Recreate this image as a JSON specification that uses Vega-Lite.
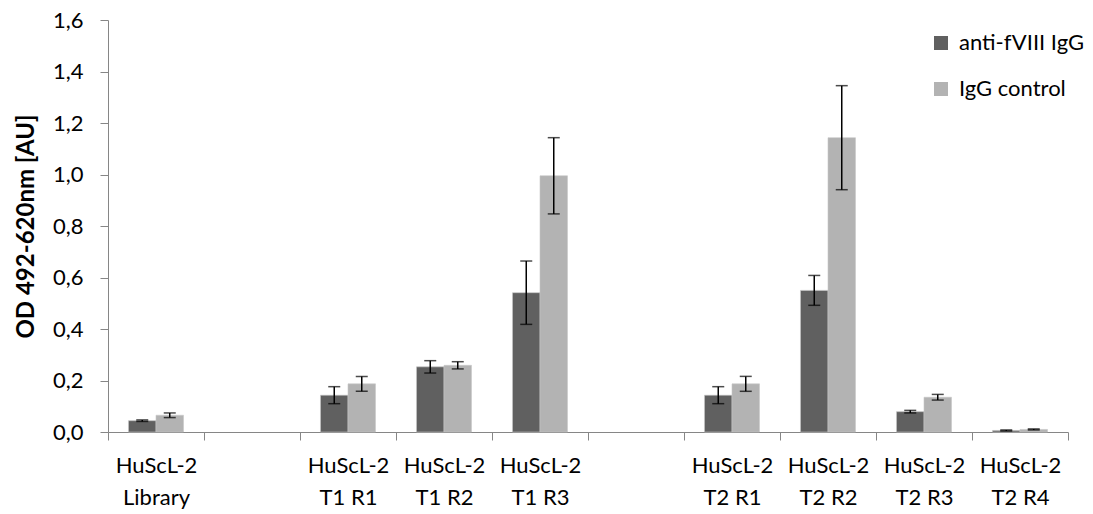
{
  "$schema": "https://vega.github.io/schema/vega-lite/v6.json",
  "width": 960,
  "height": 412,
  "autosize": {"type": "none"},
  "padding": {"left": 108, "top": 20, "right": 25, "bottom": 82},
  "background": "white",
  "config": {
    "view": {"stroke": null},
    "font": "Lato",
    "axis": {"labelFont": "Lato", "titleFont": "Lato", "labelColor": "#000000", "titleColor": "#000000", "grid": false}
  },
  "data": {
    "values": [
      {"sample": "HuScL-2 Library", "series": "anti-fVIII IgG", "od": 0.044, "err": 0.003},
      {"sample": "HuScL-2 Library", "series": "IgG control", "od": 0.065, "err": 0.009},
      {"sample": "HuScL-2 T1 R1", "series": "anti-fVIII IgG", "od": 0.143, "err": 0.033},
      {"sample": "HuScL-2 T1 R1", "series": "IgG control", "od": 0.187, "err": 0.029},
      {"sample": "HuScL-2 T1 R2", "series": "anti-fVIII IgG", "od": 0.253, "err": 0.024},
      {"sample": "HuScL-2 T1 R2", "series": "IgG control", "od": 0.259, "err": 0.014},
      {"sample": "HuScL-2 T1 R3", "series": "anti-fVIII IgG", "od": 0.541, "err": 0.123},
      {"sample": "HuScL-2 T1 R3", "series": "IgG control", "od": 0.995, "err": 0.148},
      {"sample": "HuScL-2 T2 R1", "series": "anti-fVIII IgG", "od": 0.143, "err": 0.033},
      {"sample": "HuScL-2 T2 R1", "series": "IgG control", "od": 0.187, "err": 0.029},
      {"sample": "HuScL-2 T2 R2", "series": "anti-fVIII IgG", "od": 0.550, "err": 0.058},
      {"sample": "HuScL-2 T2 R2", "series": "IgG control", "od": 1.143, "err": 0.202},
      {"sample": "HuScL-2 T2 R3", "series": "anti-fVIII IgG", "od": 0.079, "err": 0.005},
      {"sample": "HuScL-2 T2 R3", "series": "IgG control", "od": 0.135, "err": 0.011},
      {"sample": "HuScL-2 T2 R4", "series": "anti-fVIII IgG", "od": 0.006, "err": 0.002},
      {"sample": "HuScL-2 T2 R4", "series": "IgG control", "od": 0.010, "err": 0.002}
    ]
  },
  "encoding": {
    "x": {
      "field": "sample",
      "type": "nominal",
      "scale": {
        "domain": ["HuScL-2 Library", "gap-1", "HuScL-2 T1 R1", "HuScL-2 T1 R2", "HuScL-2 T1 R3", "gap-2", "HuScL-2 T2 R1", "HuScL-2 T2 R2", "HuScL-2 T2 R3", "HuScL-2 T2 R4"],
        "paddingInner": 0,
        "paddingOuter": 0
      },
      "axis": {
        "title": null,
        "labelAngle": 0,
        "labelFontSize": 22,
        "labelPadding": 15,
        "labelLineHeight": 32,
        "labelBaseline": "top",
        "labelExpr": "indexof(datum.label, 'gap') == 0 ? '' : [slice(datum.label, 0, 7), slice(datum.label, 8)]",
        "tickBand": "extent",
        "tickSize": 8,
        "tickColor": "#868686",
        "domainColor": "#868686",
        "tickWidth": 1,
        "domainWidth": 1
      }
    },
    "xOffset": {
      "field": "series",
      "type": "nominal",
      "scale": {"domain": ["anti-fVIII IgG", "IgG control"], "paddingInner": 0, "paddingOuter": 0.745}
    }
  },
  "layer": [
    {
      "mark": {"type": "bar", "stroke": "#c8c8c8", "strokeWidth": 0.6},
      "encoding": {
        "y": {
          "field": "od",
          "type": "quantitative",
          "title": "OD 492-620nm [AU]",
          "scale": {"domain": [0, 1.6], "nice": false},
          "axis": {
            "titleFontSize": 24,
            "titleFontWeight": "bold",
            "titlePadding": 14,
            "values": [0, 0.2, 0.4, 0.6, 0.8, 1.0, 1.2, 1.4, 1.6],
            "labelExpr": "replace(format(datum.value, '.1f'), '.', ',')",
            "labelFontSize": 22,
            "labelPadding": 17,
            "tickSize": 8,
            "tickColor": "#868686",
            "domainColor": "#868686"
          }
        },
        "color": {
          "field": "series",
          "type": "nominal",
          "scale": {"domain": ["anti-fVIII IgG", "IgG control"], "range": ["#606060", "#b3b3b3"]},
          "legend": {
            "title": null,
            "orient": "none",
            "legendX": 822,
            "legendY": 12,
            "symbolType": "square",
            "symbolSize": 196,
            "symbolStrokeWidth": 0,
            "labelFontSize": 22,
            "labelFont": "Lato",
            "labelColor": "#000000",
            "rowPadding": 24,
            "labelOffset": 7
          }
        }
      }
    },
    {
      "mark": {"type": "errorbar", "ticks": {"size": 12, "thickness": 1.5, "color": "#000000"}, "rule": {"strokeWidth": 1.5, "color": "#000000"}, "color": "#000000"},
      "encoding": {
        "y": {"field": "od", "type": "quantitative", "title": "OD 492-620nm [AU]"},
        "yError": {"field": "err"}
      }
    }
  ]
}
